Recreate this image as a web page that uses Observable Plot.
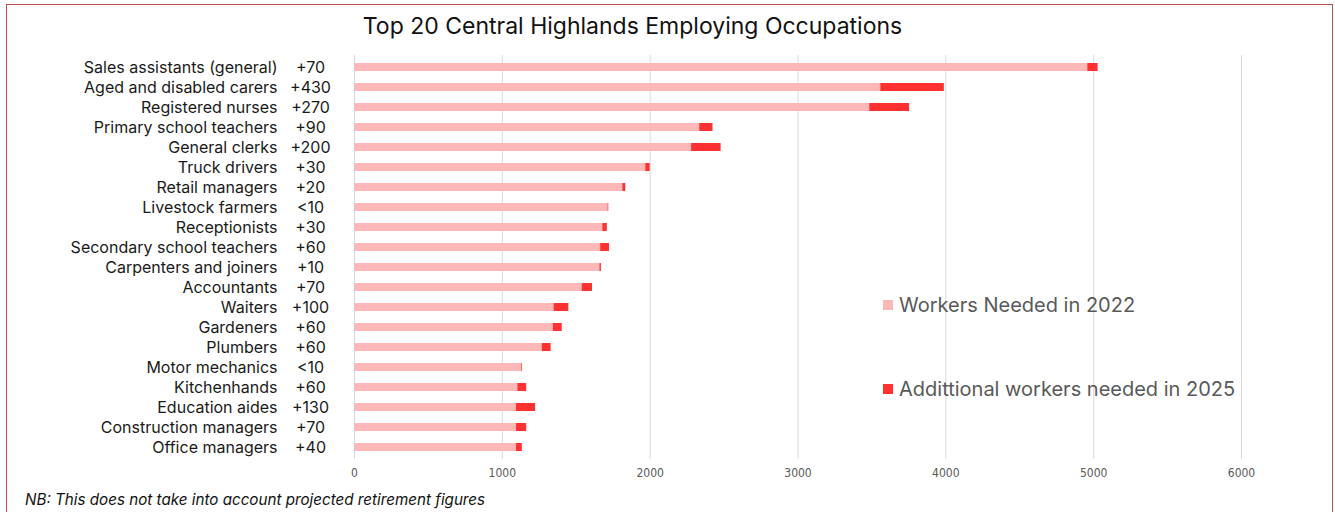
<!DOCTYPE html>
<html><head><meta charset="utf-8">
<script src="https://cdn.jsdelivr.net/npm/d3@7"></script>
<script src="https://cdn.jsdelivr.net/npm/@observablehq/plot@0.6"></script>
<style>
body{margin:0;background:#fff;}
#wrap{position:relative;width:1335px;height:512px;overflow:hidden;font-family:"Inter",sans-serif;background:#fff;}
#frame{position:absolute;left:6px;top:4px;width:1327px;height:560px;border:1px solid #c0504d;box-sizing:border-box;pointer-events:none;}
#title{position:absolute;left:0;width:1265px;top:12px;text-align:center;font-size:23px;color:#111;}
#chart{position:absolute;left:0;top:0;}
.leg{position:absolute;left:883px;font-size:20px;color:#595959;display:flex;align-items:center;white-space:nowrap;}
.leg span.sw{display:inline-block;width:10px;height:10px;margin-right:6px;}
#note{position:absolute;left:25px;top:490px;font-size:15.2px;font-style:italic;color:#111;}
</style>
</head><body>
<div id="wrap">
  <div id="chart"></div>
  <div id="title">Top 20 Central Highlands Employing Occupations</div>
  <div class="leg" style="top:293px"><span class="sw" id="sw1"></span><span id="lt1"></span></div>
  <div class="leg" style="top:377px"><span class="sw" id="sw2"></span><span id="lt2"></span></div>
  <div id="note">NB: This does not take into account projected retirement figures</div>
  <div id="frame"></div>
</div>
<script>
const occupations = ["Sales assistants (general)","Aged and disabled carers","Registered nurses","Primary school teachers","General clerks","Truck drivers","Retail managers","Livestock farmers","Receptionists","Secondary school teachers","Carpenters and joiners","Accountants","Waiters","Gardeners","Plumbers","Motor mechanics","Kitchenhands","Education aides","Construction managers","Office managers"];
const needed2022 = [4960,3560,3485,2335,2280,1970,1815,1715,1680,1665,1660,1540,1350,1345,1270,1130,1105,1095,1095,1095];
const additional2025 = [70,430,270,90,200,30,20,5,30,60,10,70,100,60,60,5,60,130,70,40];
const additionalLabels = ["+70","+430","+270","+90","+200","+30","+20","<10","+30","+60","+10","+70","+100","+60","+60","<10","+60","+130","+70","+40"];
const seriesNames = ["Workers Needed in 2022","Addittional workers needed in 2025"];
const seriesColors = ["#ffb8b8","#ff3131"];
const xTicks = [0,1000,2000,3000,4000,5000,6000];

const rows = [];
occupations.forEach((o,i)=>{
  rows.push({occupation:o, series:seriesNames[0], value:needed2022[i]});
  rows.push({occupation:o, series:seriesNames[1], value:additional2025[i]});
});
const labelRows = occupations.map((o,i)=>({occupation:o, label:additionalLabels[i]}));

const chart = Plot.plot({
  width:1335, height:490,
  marginLeft:354, marginRight:94, marginTop:55, marginBottom:31,
  style:{fontFamily:"Inter, sans-serif", background:"transparent"},
  x:{domain:[0,6000], ticks:xTicks, grid:false},
  y:{domain:occupations, paddingInner:0.58, paddingOuter:0.32},
  color:{domain:seriesNames, range:seriesColors},
  marks:[
    Plot.ruleX(xTicks,{stroke:"#d9d9d9", strokeWidth:1}),
    Plot.barX(rows,{y:"occupation", x:"value", fill:"series", order:seriesNames, inset:0}),
    Plot.axisX({ticks:xTicks, tickFormat:d=>String(d), tickSize:0, tickPadding:9, fontSize:12, fill:"#595959", fontFamily:"Liberation Sans Narrow, DejaVu Sans Condensed, sans-serif", label:null}),
    Plot.axisY({tickSize:0, tickPadding:77, fontSize:16, fill:"#1a1a1a", label:null}),
    Plot.text(labelRows,{y:"occupation", text:"label", frameAnchor:"left", dx:-44, textAnchor:"middle", fontSize:16, fill:"#1a1a1a"})
  ]
});
document.getElementById("chart").appendChild(chart);
document.getElementById("sw1").style.background = seriesColors[0];
document.getElementById("sw2").style.background = seriesColors[1];
document.getElementById("lt1").textContent = seriesNames[0];
document.getElementById("lt2").textContent = seriesNames[1];
</script>
</body></html>
